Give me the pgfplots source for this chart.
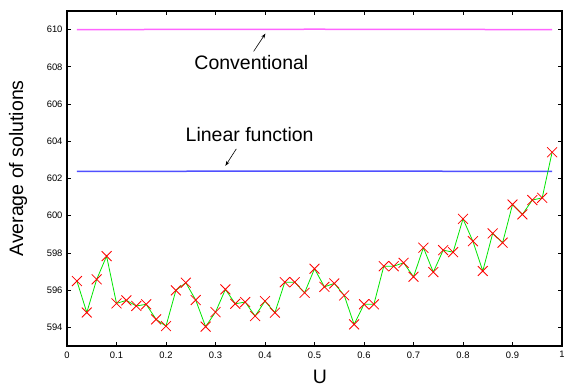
\documentclass[border=0pt]{standalone}
\usepackage{pgfplots}
\pgfplotsset{compat=1.18}
\usepackage{fontspec}
\setmainfont{Liberation Sans}
\usetikzlibrary{arrows.meta}
\definecolor{convcol}{RGB}{255,100,255}
\definecolor{lincol}{RGB}{80,80,255}
\definecolor{grncol}{RGB}{0,230,0}
\begin{document}
\begin{tikzpicture}
\begin{axis}[
  name=ax,
  scale only axis,
  width=495pt, height=335pt,
  xmin=0, xmax=1, ymin=593, ymax=611,
  xtick={0,0.1,...,1.01},
  xticklabels={0,0.1,0.2,0.3,0.4,0.5,0.6,0.7,0.8,0.9,1},
  ytick={594,596,...,610},
  tick align=inside,
  major tick length=4pt,
  axis line style={line width=1.2pt},
  tick style={line width=0.8pt, black},
  /pgf/number format/assume math mode=true,
  tick label style={font=\fontsize{9.4}{10}\selectfont},
  yticklabel style={xshift=-1pt},
  xticklabel style={yshift=-2pt},
  xlabel={U},
  ylabel={Average of solutions},
  label style={font=\fontsize{19.5}{21}\selectfont},
  xlabel style={at={(axis description cs:0.511,-0.093)}, anchor=center},
  ylabel style={at={(axis description cs:-0.099,0.53)}, anchor=center},
  clip=false,
]
\addplot[color=convcol, line width=1.5pt, no markers] coordinates {(0.02,610) (0.5,610.02) (0.98,610)};
\addplot[color=lincol, line width=1.5pt, no markers] coordinates {(0.02,602.38) (0.5,602.40) (0.98,602.38)};
\addplot[color=grncol, line width=0.8pt, mark=x, mark size=7pt,
  mark options={color=red, line width=0.8pt}] coordinates {
(0.02,596.49) (0.04,594.80) (0.06,596.58) (0.08,597.83) (0.10,595.29)
(0.12,595.45) (0.14,595.15) (0.16,595.24) (0.18,594.43) (0.20,594.07)
(0.22,595.99) (0.24,596.40) (0.26,595.47) (0.28,594.04) (0.30,594.82)
(0.32,596.04) (0.34,595.27) (0.36,595.36) (0.38,594.61) (0.40,595.41)
(0.42,594.79) (0.44,596.43) (0.46,596.43) (0.48,595.86) (0.50,597.15)
(0.52,596.18) (0.54,596.36) (0.56,595.72) (0.58,594.16) (0.60,595.24)
(0.62,595.24) (0.64,597.29) (0.66,597.29) (0.68,597.47) (0.70,596.72)
(0.72,598.28) (0.74,596.97) (0.76,598.15) (0.78,598.04) (0.80,599.83)
(0.82,598.63) (0.84,597.03) (0.86,599.05) (0.88,598.55) (0.90,600.60)
(0.92,600.07) (0.94,600.84) (0.96,600.96) (0.98,603.41)
};
\node[font=\fontsize{19.5}{21}\selectfont] at (axis cs:0.3725,608.21) {Conventional};
\draw[-{Stealth[length=5pt,width=3.5pt]}, line width=0.6pt] (axis cs:0.377,608.83) -- (axis cs:0.401,609.79);
\node[font=\fontsize{19.5}{21}\selectfont] at (axis cs:0.369,604.36) {Linear function};
\draw[-{Stealth[length=5pt,width=3.5pt]}, line width=0.6pt] (axis cs:0.342,603.59) -- (axis cs:0.320,602.68);
\end{axis}
\pgfresetboundingbox
\path[use as bounding box] ([xshift=-67pt,yshift=11pt]ax.north west) rectangle ([xshift=4pt,yshift=-41pt]ax.south east);
\end{tikzpicture}
\end{document}
